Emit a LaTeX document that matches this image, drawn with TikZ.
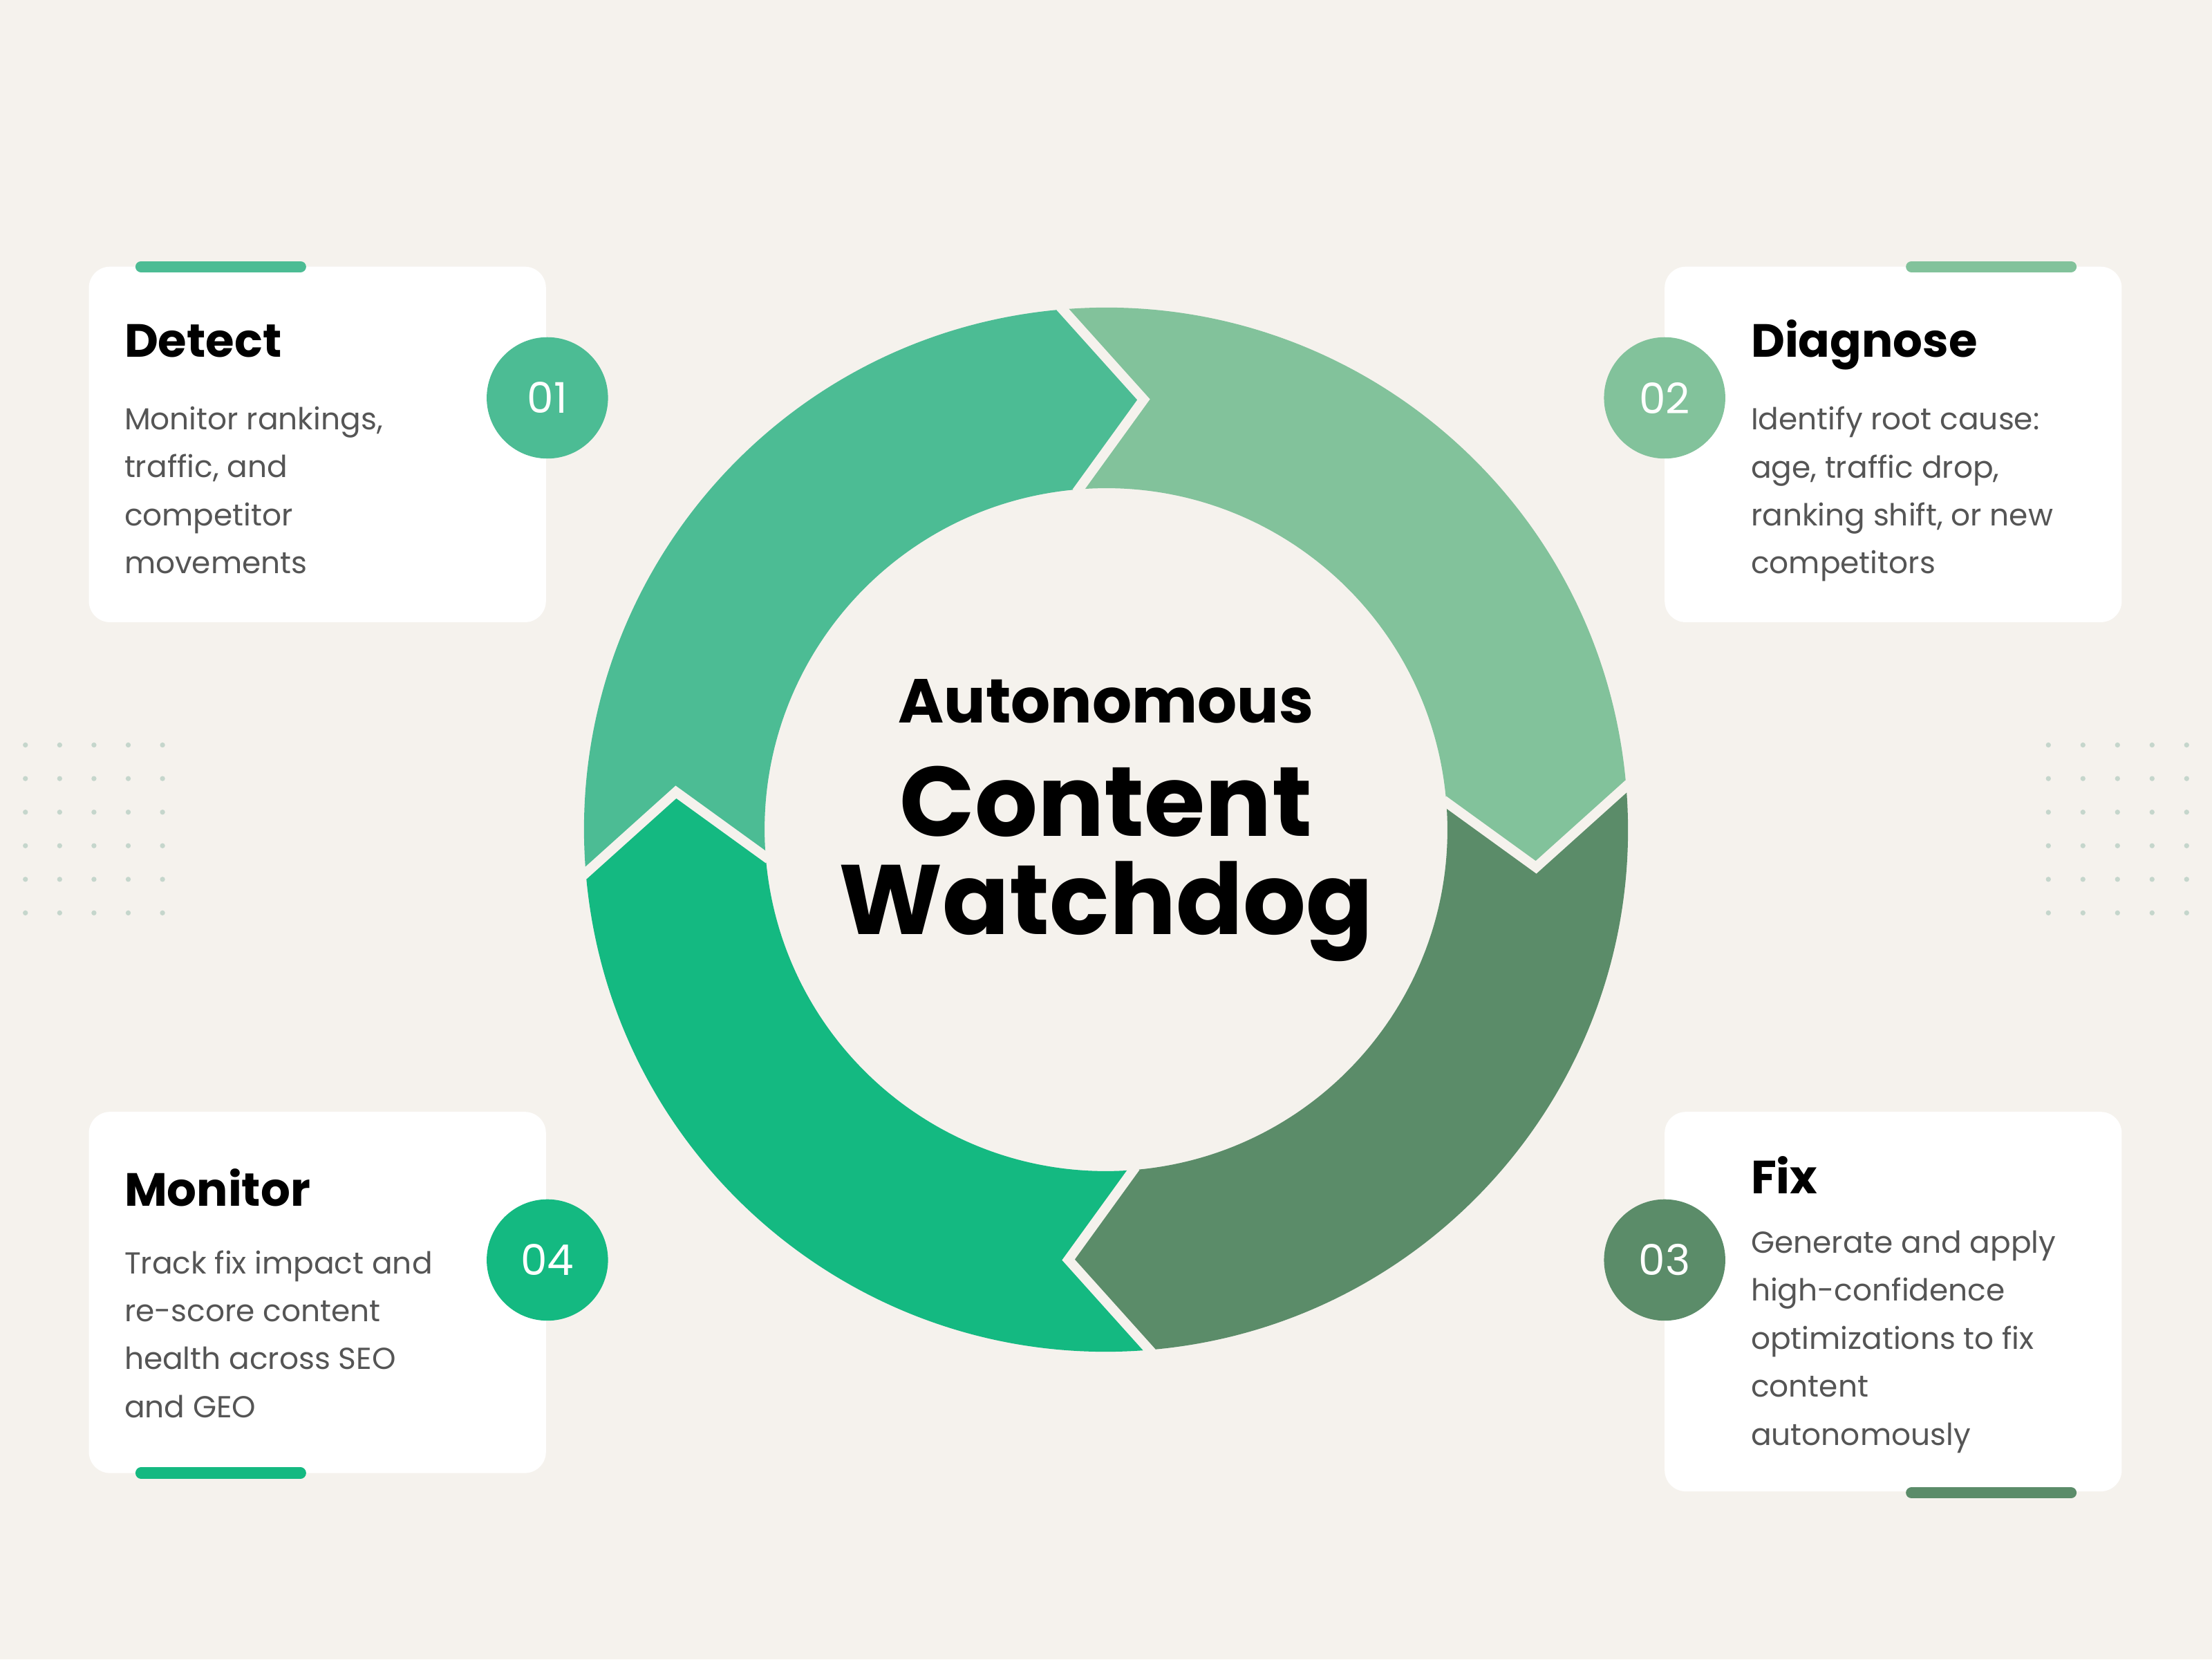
\documentclass[tikz,border=0pt]{standalone}
\usepackage{fontspec}
\setmainfont{Poppins}
\begin{document}
\definecolor{bg}{HTML}{F5F2ED}
\definecolor{cA}{HTML}{4CBC94}
\definecolor{cB}{HTML}{82C29B}
\definecolor{cC}{HTML}{5B8C69}
\definecolor{cD}{HTML}{14B981}
\definecolor{body}{HTML}{555555}
\definecolor{dot}{HTML}{C5D6CC}
\begin{tikzpicture}[x=1pt,y=1pt,
  card/.style={fill=white,rounded corners=15pt,draw=none},
  num/.style={circle,minimum size=86pt,inner sep=0,text=white,font=\fontsize{30}{30}\selectfont},
  head/.style={anchor=base west,inner sep=0,font=\fontsize{33}{33}\selectfont\bfseries},
  txt/.style={anchor=north west,inner sep=0,align=left,text=body,font=\fontsize{21.5}{34}\selectfont},
  bar/.style={line width=8pt,line cap=round}]
\fill[bg] (0,0) rectangle (1568,1176);
\useasboundingbox (0,0) rectangle (1568,1176);
% dots
\foreach \i in {0,...,4}{\foreach \j in {0,...,5}{
  \fill[dot] (18+24.3*\i,648-23.8*\j) circle (1.8);
  \fill[dot] (1452+24.5*\i,648-23.8*\j) circle (1.8);}}
% ring
\begin{scope}[shift={(784,588)}]
\newcommand{\seg}[2]{%
 \pgfmathsetmacro{\e}{#1-90}\pgfmathsetmacro{\t}{#1-100}\pgfmathsetmacro{\u}{#1-10}%
 \fill[#2] (#1:370) arc[start angle=#1,end angle=\e,radius=370] -- (\t:306) -- (\e:242)
   arc[start angle=\e,end angle=#1,radius=242] -- (\u:306) -- cycle;}
\seg{185}{cA}
\seg{95}{cB}
\seg{5}{cC}
\seg{-85}{cD}
\foreach \b in {95,5,-85,185}{\pgfmathsetmacro{\t}{\b-10}
  \draw[bg,line width=7pt,line join=miter] (\b:372) -- (\t:306) -- (\b:240);}
\end{scope}
% centre title
\node (t1) at (784,679) [font=\fontsize{44}{44}\selectfont\bfseries] {Autonomous};
\node (t2) at (784,608) [font=\fontsize{70}{70}\selectfont\bfseries] {Content};
\node (t3) at (784,530) [font=\fontsize{70}{70}\selectfont\bfseries] {Watchdog};
% cards
\fill[card] (63,735) rectangle (387,987);
\fill[card] (1180,735) rectangle (1504,987);
\fill[card] (63,132) rectangle (387,388);
\fill[card] (1180,119) rectangle (1504,388);
\draw[bar,cA] (100,987) -- (213,987);
\draw[bar,cB] (1355,987) -- (1468,987);
\draw[bar,cD] (100,132) -- (213,132);
\draw[bar,cC] (1355,118) -- (1468,118);
\node[num,fill=cA] (n1) at (388,894) {01};
\node[num,fill=cB] (n2) at (1180,894) {02};
\node[num,fill=cC] (n3) at (1180,283) {03};
\node[num,fill=cD] (n4) at (388,283) {04};
\node[head] (h1) at (88,923) {Detect};
\node[txt] (b1) at (88,888) {Monitor rankings,\\traffic, and\\competitor\\movements};
\node[head] (h2) at (1241,923) {Diagnose};
\node[txt] (b2) at (1241,888) {Identify root cause:\\age, traffic drop,\\ranking shift, or new\\competitors};
\node[head] (h4) at (88,321) {Monitor};
\node[txt] (b4) at (88,290) {Track fix impact and\\re-score content\\health across SEO\\and GEO};
\node[head] (h3) at (1241,330) {Fix};
\node[txt] (b3) at (1241,304) {Generate and apply\\high-confidence\\optimizations to fix\\content\\autonomously};
\end{tikzpicture}
\end{document}
